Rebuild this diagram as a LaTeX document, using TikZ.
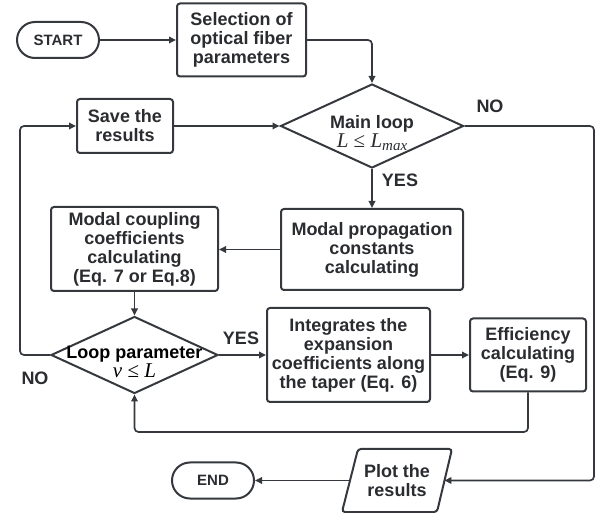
\documentclass[tikz,border=0pt]{standalone}
\usepackage{fontspec}
\setmainfont{Liberation Sans}
\newfontfamily\tms{Liberation Serif}
\usetikzlibrary{shapes.geometric,arrows.meta,calc}
\definecolor{ln}{HTML}{35383D}
\definecolor{tx}{HTML}{2A2C30}
\begin{document}
\begin{tikzpicture}[x=1pt,y=-1pt,
  every node/.style={font=\fontsize{18}{19}\selectfont\bfseries, text=tx},
  box/.style={draw=ln, line width=2pt, rounded corners=3pt, align=center, inner sep=1pt},
  term/.style={draw=ln, line width=2pt, rounded corners=18pt, minimum width=82pt, minimum height=36pt, inner sep=1pt, font=\fontsize{15}{17}\selectfont\bfseries},
  dec/.style={draw=ln, line width=2pt, diamond, inner sep=0pt},
  arr/.style={draw=ln, line width=1.7pt, rounded corners=4pt, -{Triangle[length=7pt,width=6.5pt]}},
  mtxt/.style={align=center, inner sep=0pt}]
\path[use as bounding box] (0,0) rectangle (606,513);

% nodes
\node[term] (start) at (58,40) {START};
\node[box, minimum width=129pt, minimum height=73pt] (sel) at (241.5,40) {Selection of\\optical fiber\\parameters};
\node[box, minimum width=96pt, minimum height=54pt] (save) at (125,126) {Save the\\results};
\node[dec, minimum width=183pt, minimum height=84pt] (main) at (372,126) {};
\node[mtxt] (maintxt) at (372,133) {Main loop\\{\fontsize{21}{19}\selectfont\tms\mdseries\itshape L \upshape≤ \itshape L\raisebox{-0.3ex}{\fontsize{15}{15}\selectfont max}}};
\node[box, minimum width=182pt, minimum height=81pt] (prop) at (372,249.5) {Modal propagation\\constants\\calculating};
\node[box, minimum width=167pt, minimum height=84pt] (coup) at (134.5,249) {Modal coupling\\coefficients\\calculating\\(Eq. 7 or Eq.8)};
\node[dec, minimum width=167pt, minimum height=77pt] (lp) at (134.5,355) {};
\node[mtxt, text=black] (lptxt) at (134.5,362) {Loop parameter\\{\fontsize{21}{19}\selectfont\tms\mdseries\itshape ν \upshape≤ \itshape L}};
\node[box, minimum width=163pt, minimum height=94pt] (integ) at (348.5,355) {Integrates the\\expansion\\coefficients along\\the taper (Eq. 6)};
\node[box, minimum width=116pt, minimum height=73pt] (eff) at (528,355) {Efficiency\\calculating\\(Eq. 9)};
\node[align=center, minimum width=94.5pt, minimum height=63pt, inner sep=0pt] (plot) at (397,480.5) {Plot the\\results};
\draw[ln, line width=2pt, rounded corners=3pt]
  ($(plot)+(-39,-31.5)$) -- ($(plot)+(55,-31.5)$) -- ($(plot)+(40,31.5)$) -- ($(plot)+(-55,31.5)$) -- cycle;
\node[term] (end) at (213,480.5) {END};

% helper coordinates
\coordinate (rgt) at (594,300);
\coordinate (lft) at (20,240);
\coordinate (bot) at (300,432);

% connectors
\draw[arr] (start) -- (sel);
\draw[arr] (sel.east) -| (main.north);
\draw[arr] (save) -- (main.west);
\draw[arr] (main.south) -- (prop.north);
\node at (400,180) {YES};
\draw[arr] (main.east) -- (main.east -| rgt) |- (plot.east);
\node at (490,106) {NO};
\draw[arr] (prop.west) -- (coup.east |- prop.west);
\draw[arr] (coup.south) -- (lp.north);
\draw[arr] (lp.east) -- (integ.west |- lp.east);
\node at (241,338) {YES};
\draw[arr] (integ.east) -- (eff.west |- integ.east);
\draw[arr] (eff.south) -- (eff.south |- bot) -| (lp.south);
\draw[arr] (lp.west) -- (lp.west -| lft) |- (save.west);
\node at (35,378) {NO};
\draw[arr] (plot.west) -- (end.east);
\end{tikzpicture}
\end{document}
